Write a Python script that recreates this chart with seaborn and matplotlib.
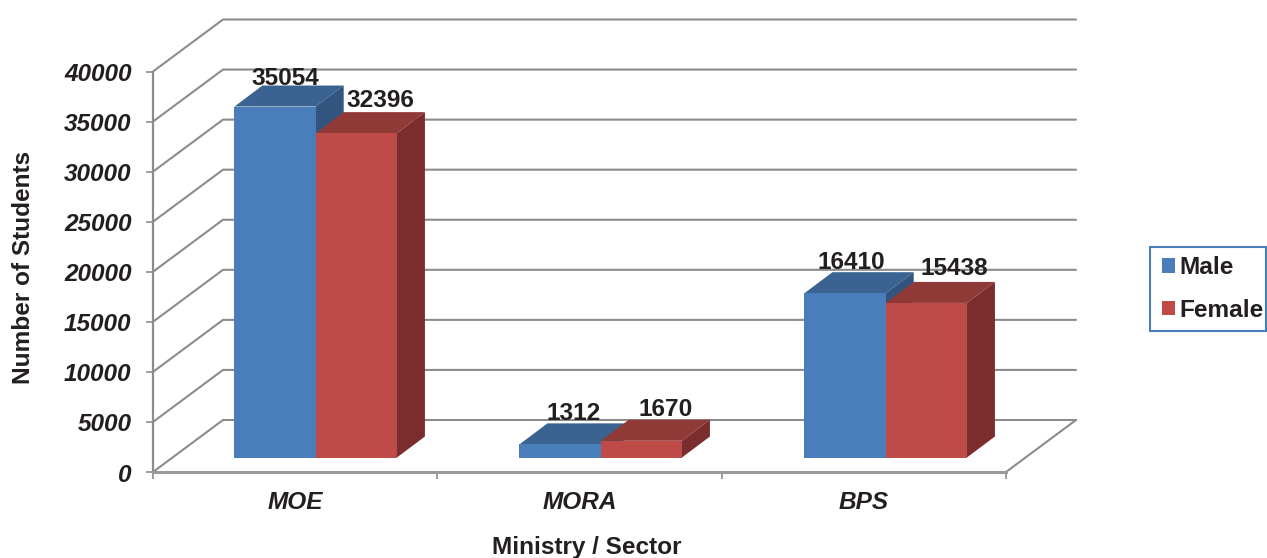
import matplotlib
matplotlib.use("Agg")
import matplotlib.pyplot as plt
import pandas as pd
import seaborn as sns
from matplotlib.patches import Polygon, Rectangle
from matplotlib.transforms import ScaledTranslation

categories = ["MOE", "MORA", "BPS"]
male = [35054, 1312, 16410]
female = [32396, 1670, 15438]
y_ticks = [0, 5000, 10000, 15000, 20000, 25000, 30000, 35000, 40000]

# pixel offsets of the value labels from each bar's top centre
label_dx = {"Male": [10, 14, 6], "Female": [24, 24, 28]}
label_dy = {"Male": [28, 31, 31], "Female": [33, 31, 34]}

W, H = 1267, 558
FONT = ["Liberation Sans", "DejaVu Sans"]
INK = "#231f20"
GRID = "#8c8c8c"
FS = 17.6

sns.set_theme(style="white")
plt.rcParams["font.family"] = FONT
plt.rcParams["text.color"] = INK

df = pd.DataFrame({"Ministry": categories, "Male": male, "Female": female}).melt(
    id_vars="Ministry", var_name="Sex", value_name="Students")

fig = plt.figure(figsize=(W / 100, H / 100), dpi=100)


def rect(x0, x1, ytop, ybot):
    return [x0 / W, 1 - ybot / H, (x1 - x0) / W, (ybot - ytop) / H]


# floor-plane axes: carries ticks, labels and walls
frame = fig.add_axes(rect(153, 1006, 71.5, 472))
frame.set_xlim(-0.5, 2.5)
frame.set_ylim(0, 40000)
for side in ("top", "right"):
    frame.spines[side].set_visible(False)
frame.spines["left"].set_color(GRID)
frame.spines["left"].set_linewidth(1.6)
frame.spines["bottom"].set_color("#9a9a9a")
frame.spines["bottom"].set_linewidth(2.2)

frame.set_yticks(y_ticks, [str(v) for v in y_ticks], fontsize=FS, fontweight="bold",
                 fontstyle="italic", color=INK)
frame.set_xticks([0, 1, 2], categories, fontsize=FS, fontweight="bold",
                 fontstyle="italic", color=INK)
frame.set_xticks([-0.5, 0.5, 1.5, 2.5], minor=True)
frame.tick_params(axis="y", left=True, length=5, width=1.2, color=GRID, pad=10.5)
frame.tick_params(axis="x", which="major", bottom=False, length=0, pad=14)
frame.tick_params(axis="x", which="minor", bottom=True, length=5, width=1.2, color=GRID)
shift_down = ScaledTranslation(0, -0.5 / 100, fig.dpi_scale_trans)
for t in frame.get_yticklabels():
    t.set_transform(t.get_transform() + shift_down)

frame.set_ylabel("Number of Students", fontsize=FS, fontweight="bold", color=INK)
frame.yaxis.set_label_coords((35 - 153) / 853, (472 - 267) / 400.5)
frame.set_xlabel("Ministry / Sector", fontsize=FS, fontweight="bold", color=INK)
frame.xaxis.set_label_coords((587 - 153) / 853, -(536 - 472) / 400.5)

# wall depth in frame data units
wall_dx = 70 / (853 / 3)
wall_dy = 52 / (400.5 / 40000)
for v in y_ticks:
    frame.plot([-0.5, -0.5 + wall_dx, 2.5 + wall_dx], [v, v + wall_dy, v + wall_dy],
               color=GRID, lw=1.5, clip_on=False, solid_joinstyle="miter", zorder=1)
frame.plot([2.5, 2.5 + wall_dx], [0, wall_dy], color=GRID, lw=1.5, clip_on=False, zorder=1)

# bar-plane axes: drawn over the frame
ax = fig.add_axes(rect(173.2, 1028.2, 57, 457.5), facecolor="none")
palette = {"Male": "#4a7ebb", "Female": "#be4b48"}
sns.barplot(data=df, x="Ministry", y="Students", hue="Sex", order=categories,
            hue_order=["Male", "Female"], palette=palette, width=0.57, gap=0,
            saturation=1, ax=ax, linewidth=0)
ax.set_xlim(-0.5, 2.5)
ax.set_ylim(0, 40000)
ax.axis("off")
handles, labels = ax.get_legend_handles_labels()
ax.get_legend().remove()

bar_dx = 28 / 285
bar_dy = 21 / (400.5 / 40000)
shades = {"Male": ("#3a6391", "#31557f", 2), "Female": ("#903a38", "#7a2d2c", 3)}
for container, name in zip(ax.containers, ["Male", "Female"]):
    top_c, side_c, z = shades[name]
    for i, bar in enumerate(container):
        x0, x1, h = bar.get_x(), bar.get_x() + bar.get_width(), bar.get_height()
        bar.set_zorder(z + 0.5 if name == "Male" else 4)
        ax.add_patch(Polygon([(x0, h), (x1, h), (x1 + bar_dx, h + bar_dy), (x0 + bar_dx, h + bar_dy)],
                             closed=True, fc=top_c, ec="none", zorder=z, clip_on=False))
        ax.add_patch(Polygon([(x1, 0), (x1 + bar_dx, bar_dy), (x1 + bar_dx, h + bar_dy), (x1, h)],
                             closed=True, fc=side_c, ec="none", zorder=z, clip_on=False))
        ax.annotate(str(int(h)), ((x0 + x1) / 2, h),
                    xytext=(label_dx[name][i] * 0.72, label_dy[name][i] * 0.72),
                    textcoords="offset points", ha="center", va="center",
                    fontsize=FS, fontweight="bold", color=INK, zorder=6, annotation_clip=False)

# legend frame is drawn apart so the box can be tighter than the entries' padding
fig.add_artist(Rectangle((1150 / W, 1 - 331 / H), 115.5 / W, 84 / H, transform=fig.transFigure,
                         fc="white", ec="#4a7ebb", lw=1.5))
leg = fig.legend(handles, labels, loc="center left", bbox_to_anchor=(1162 / W, 1 - 289 / H),
                 frameon=False, handlelength=0.55, handleheight=0.55, handletextpad=0.17,
                 labelspacing=0.78, borderpad=0, borderaxespad=0,
                 prop={"family": FONT, "weight": "bold", "size": FS}, labelcolor=INK)

fig.savefig("out.png", dpi=100)
